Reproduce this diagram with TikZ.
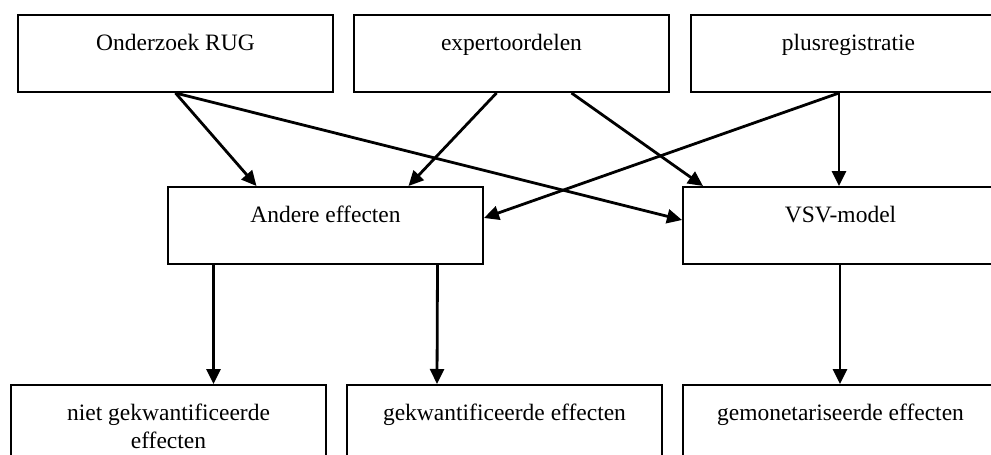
\documentclass[tikz,border=0pt]{standalone}
\usepackage{fontspec}
\setmainfont{Liberation Serif}
\usetikzlibrary{arrows.meta}

\begin{document}
\begin{tikzpicture}[x=1pt, y=-1pt,
    box/.style={draw, line width=2pt, anchor=north west, minimum width=315pt,
                minimum height=77pt, inner sep=0pt},
    lbl/.style={anchor=base, align=center, inner sep=0pt,
                font=\fontsize{23.5}{28}\selectfont},
    arr/.style={line width=2.8pt, -{Triangle[width=14pt,length=15pt]}}]
  \useasboundingbox (0,0) rectangle (991,455);
  % sources
  \node [box] (rug) at (17,14) {};
  \node [box] (expert) at (353,14) {};
  \node [box] (plus) at (690,14) {};
  % models
  \node [box] (andere) at (167,186) {};
  \node [box] (vsv) at (682,186) {};
  % results
  \node [box] (niet) at (10,384) {};
  \node [box] (gekw) at (346,384) {};
  \node [box] (gemon) at (682,384) {};
  % texts
  \node [lbl] (rugtxt) at ([yshift=-36pt]rug.north) {Onderzoek RUG};
  \node [lbl] (experttxt) at ([yshift=-36pt]expert.north) {expertoordelen};
  \node [lbl] (plustxt) at ([yshift=-36pt]plus.north) {plusregistratie};
  \node [lbl] (anderetxt) at ([yshift=-36pt]andere.north) {Andere effecten};
  \node [lbl] (vsvtxt) at ([yshift=-36pt]vsv.north) {VSV-model};
  \node [lbl] (niettxt) at ([yshift=-64pt]niet.north) {niet gekwantificeerde\\effecten};
  \node [lbl] (gekwtxt) at ([yshift=-36pt]gekw.north) {gekwantificeerde effecten};
  \node [lbl] (gemontxt) at ([yshift=-36pt]gemon.north) {gemonetariseerde effecten};
  % arrows
  \draw [arr] (rug.south) -- ([xshift=-69pt]andere.north);
  \draw [arr] (rug.south) -- ([yshift=5.5pt]vsv.west);
  \draw [arr] ([xshift=-15pt]expert.south) -- ([xshift=83pt]andere.north);
  \draw [arr] ([xshift=60pt]expert.south) -- ([xshift=-137.5pt]vsv.north);
  \draw [arr] ([xshift=-9.5pt]plus.south) -- ([xshift=-1.5pt]vsv.north);
  \draw [arr] ([xshift=-9.5pt]plus.south) -- ([yshift=7.5pt]andere.east);
  \draw [arr] ([xshift=-112pt]andere.south) -- ([xshift=45pt]niet.north);
  \draw [arr] ([xshift=112pt]andere.south) -- ([xshift=-67.5pt]gekw.north);
  \draw [arr] ([xshift=-0.5pt]vsv.south) -- ([xshift=-0.5pt]gemon.north);
\end{tikzpicture}
\end{document}
